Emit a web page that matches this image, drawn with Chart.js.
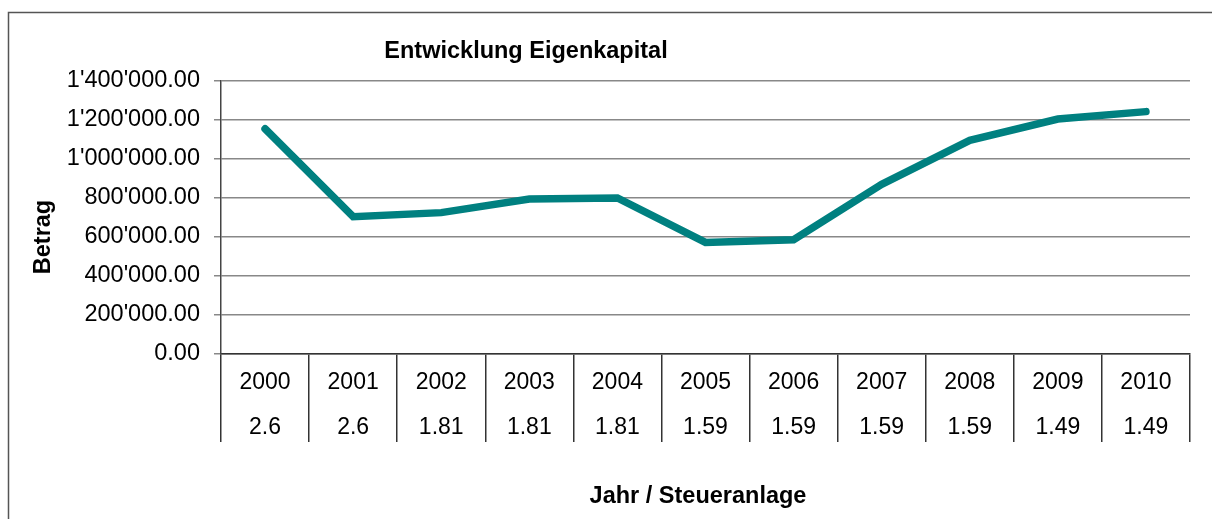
<!DOCTYPE html>
<html>
<head>
<meta charset="utf-8">
<script src="https://cdn.jsdelivr.net/npm/chart.js@4"></script>
<style>
  html, body { margin: 0; padding: 0; background: #fff; }
  #wrap { width: 1212px; height: 519px; }
</style>
</head>
<body>
<div id="wrap"><canvas id="chart"></canvas></div>
<script>
const years = ["2000", "2001", "2002", "2003", "2004", "2005", "2006", "2007", "2008", "2009", "2010"];
const rates = ["2.6", "2.6", "1.81", "1.81", "1.81", "1.59", "1.59", "1.59", "1.59", "1.49", "1.49"];
const equity = [1155000, 704000, 725000, 795000, 800000, 572000, 586000, 870000, 1096000, 1205000, 1243000];

const chartTitle = "Entwicklung Eigenkapital";
const yTitle = "Betrag";
const xTitle = "Jahr / Steueranlage";

const FONT = "'Liberation Sans', Arial, sans-serif";

function fmt(v) {
    const parts = Math.round(v).toString().replace(/\B(?=(\d{3})+(?!\d))/g, "'");
    return parts + ".00";
}

// frame + texts that Excel places outside of the plot area
const extras = {
    id: "extras",
    beforeDraw(chart) {
        const ctx = chart.ctx;
        ctx.save();
        ctx.strokeStyle = "#555";
        ctx.lineWidth = 1.5;
        ctx.strokeRect(8.5, 12.5, 1400, 700);
        ctx.restore();
    },
    afterDraw(chart) {
        const ctx = chart.ctx;
        ctx.save();
        ctx.fillStyle = "#000";
        ctx.textAlign = "center";
        ctx.textBaseline = "middle";
        ctx.font = "bold 23.5px " + FONT;
        ctx.fillText(chartTitle, 526, 52);
        ctx.fillText(xTitle, 698, 497);
        ctx.translate(44, 237);
        ctx.rotate(-Math.PI / 2);
        ctx.fillText(yTitle, 0, 0);
        ctx.restore();
    },
};

const labels = years.map((y, i) => [y, rates[i]]);

new Chart(document.getElementById("chart"), {
    type: "line",
    data: {
        labels: labels,
        datasets: [{
            label: "Eigenkapital",
            data: equity,
            borderColor: "#008080",
            borderWidth: 7.5,
            borderCapStyle: "round",
            pointRadius: 0,
            tension: 0,
        }],
    },
    options: {
        responsive: true,
        maintainAspectRatio: false,
        animation: false,
        layout: {
            padding: { left: 0, top: 81, right: 22, bottom: 77 },
        },
        plugins: {
            legend: { display: false },
            tooltip: { enabled: false },
        },
        scales: {
            x: {
                offset: true,
                grid: {
                    offset: true,
                    drawOnChartArea: false,
                    tickLength: 88,
                    color: "#333",
                    lineWidth: 1.5,
                },
                border: { color: "#333", width: 1.5 },
                ticks: {
                    autoSkip: false,
                    maxRotation: 0,
                    padding: -81.5,
                    color: "#000",
                    font: { family: FONT, size: 23, lineHeight: "45px" },
                },
                afterFit(scale) { scale.height = 88; },
            },
            y: {
                min: 0,
                max: 1400000,
                grid: {
                    color: "#888",
                    lineWidth: 1.5,
                    tickLength: 7,
                },
                border: { color: "#444", width: 1.5 },
                ticks: {
                    stepSize: 200000,
                    padding: 14,
                    color: "#000",
                    font: { family: FONT, size: 23.5 },
                    callback: (v) => fmt(v),
                },
                afterFit(scale) { scale.width = 221; },
            },
        },
    },
    plugins: [extras],
});
</script>
</body>
</html>
